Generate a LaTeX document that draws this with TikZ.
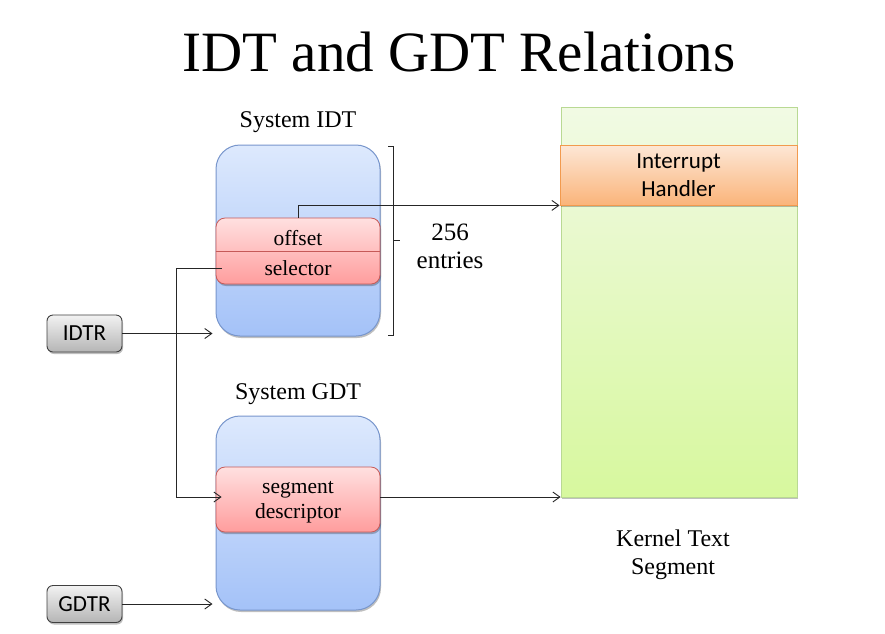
\documentclass[tikz,border=0pt]{standalone}
\usepackage{fontspec}
\setmainfont{Liberation Serif}
\newfontfamily\calfont{Carlito}
\usetikzlibrary{arrows.meta,shadows}
\definecolor{idttop}{HTML}{DDE9FD}
\definecolor{idtbot}{HTML}{A4C2F8}
\definecolor{idtborder}{HTML}{7896CC}
\definecolor{enttop}{HTML}{FFE0E0}
\definecolor{entbot}{HTML}{FF9D9D}
\definecolor{entborder}{HTML}{C65A58}
\definecolor{grntop}{HTML}{F1FAE4}
\definecolor{grnbot}{HTML}{D7F89E}
\definecolor{grnborder}{HTML}{B9D993}
\definecolor{orgtop}{HTML}{FDE7D6}
\definecolor{orgbot}{HTML}{FAB47A}
\definecolor{orgborder}{HTML}{F29A4E}
\definecolor{regtop}{HTML}{F2F2F2}
\definecolor{regbot}{HTML}{B5B5B5}
\tikzset{
  shadow/.style={drop shadow={shadow xshift=1pt, shadow yshift=-2pt, opacity=0.25, fill=black}},
  tbl/.style={draw=idtborder, line width=1pt, rounded corners=24pt, top color=idttop, bottom color=idtbot, minimum width=164pt, inner sep=0pt, shadow},
  entbox/.style={draw=entborder, line width=0.8pt, rounded corners=9pt, top color=enttop, bottom color=entbot, minimum width=164pt, inner sep=0pt, shadow},
  regbox/.style={draw=black!75, line width=0.9pt, rounded corners=6pt, top color=regtop, bottom color=regbot, minimum width=75pt, minimum height=37pt, inner sep=0pt, font=\calfont\fontsize{23}{25}\selectfont, shadow},
  grnbox/.style={draw=grnborder, line width=0.8pt, top color=grntop, bottom color=grnbot, minimum width=236pt, minimum height=390pt, inner sep=0pt, shadow},
  orgbox/.style={draw=orgborder, line width=0.8pt, top color=orgtop, bottom color=orgbot, minimum width=237pt, minimum height=60pt, inner sep=0pt, align=center, font=\calfont\fontsize{23}{28}\selectfont, shadow},
  lbl/.style={font=\fontsize{24}{28}\selectfont, align=center, inner sep=0pt},
  smalllbl/.style={font=\fontsize{21.5}{25}\selectfont, align=center, inner sep=0pt},
  conn/.style={line width=0.9pt, draw=black!85},
  arr/.style={conn, -{Straight Barb[length=7pt,width=10pt]}},
}
\begin{document}
\begin{tikzpicture}[x=1pt,y=-1pt]
\path[use as bounding box, fill=white] (0,0) rectangle (885,633);

% title
\node[font=\fontsize{57}{60}\selectfont, inner sep=0pt] (title) at (459,52) {IDT and GDT Relations};

% kernel text segment
\node[grnbox] (kts) at (679,302) {};
\node[orgbox] (ih) at (678.5,175) {Interrupt\\Handler};
\node[lbl] (ktslbl) at (673,555) {Kernel Text\\Segment};

% IDT
\node[lbl] (idtlbl) at (298,122) {System IDT};
\node[tbl, minimum height=191pt] (idt) at (298,240.5) {};
\node[entbox, minimum height=66pt] (ent) at (298,251) {};
\draw[draw=entborder, line width=0.8pt] (ent.west) -- (ent.east);
\node[smalllbl] (off) at (298,238) {offset};
\node[smalllbl] (sel) at (298,268) {selector};

% brace
\coordinate (bt) at (388,146);
\coordinate (bb) at (388,335);
\coordinate (bm) at (393,240);
\draw[conn] (bt) -- (bt -| bm) -- (bb -| bm) -- (bb);
\draw[conn] (bm) -- ++(7,0);
\node[font=\fontsize{25}{28}\selectfont, align=center, inner sep=0pt] (cnt) at (450,246) {256\\entries};

% GDT
\node[lbl] (gdtlbl) at (298,394) {System GDT};
\node[tbl, minimum height=194pt] (gdt) at (298,513) {};
\node[entbox, minimum height=65pt] (seg) at (298,499.5) {};
\node[smalllbl] (segtxt) at (298,502.5) {segment\\descriptor};

% registers
\node[regbox] (idtr) at (84.5,333.5) {IDTR};
\node[regbox] (gdtr) at (84.5,604) {GDTR};

% connectors
\draw[arr, shorten >=3pt] (idtr.east) -- (idtr.east -| idt.west);
\draw[arr, shorten >=3pt] (gdtr.east) -- (gdtr.east -| gdt.west);
\draw[arr] (off |- ent.north) |- (ih.south west);
\coordinate (sb) at (176,497);
\draw[arr] ([xshift=6pt]sel.west -| ent.west) -| (sb) -- ([xshift=6pt]sb -| seg.west);
\draw[arr] (seg.east |- sb) -- (sb -| kts.west);
\end{tikzpicture}
\end{document}
